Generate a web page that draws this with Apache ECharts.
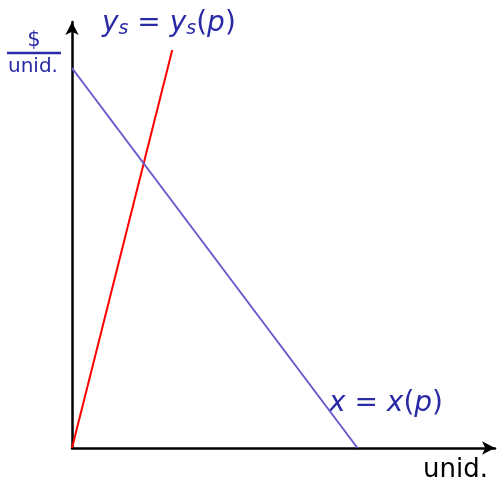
<!DOCTYPE html>
<html>
<head>
<meta charset="utf-8">
<script src="https://cdn.jsdelivr.net/npm/echarts@6/dist/echarts.min.js"></script>
<style>
  html, body { margin: 0; padding: 0; background: #fff; }
  #chart { width: 497px; height: 481px; }
</style>
</head>
<body>
<div id="chart"></div>
<script>
// supply (red) and demand (blue) lines, in axis units 0..100
const supplyX = [0, 23.7];
const supplyY = [0, 93.4];
const demandX = [0, 67.5];
const demandY = [89.2, 0];
const xLabel = "unid.";
const yLabelTop = "$";
const yLabelBottom = "unid.";

const chart = echarts.init(document.getElementById("chart"));

const textBlue = "#2a2aa6";
const ff = "'DejaVu Sans'";

const options = {
  animation: false,
  grid: { left: 72, right: 2, top: 22, bottom: 33 },
  xAxis: {
    type: "value",
    min: 0,
    max: 100,
    axisLine: {
      show: true,
      symbol: ["none", "arrow"],
      symbolSize: [10, 13],
      lineStyle: { color: "#000", width: 2.5 },
    },
    axisTick: { show: false },
    axisLabel: { show: false },
    splitLine: { show: false },
  },
  yAxis: {
    type: "value",
    min: 0,
    max: 100,
    axisLine: {
      show: true,
      symbol: ["none", "arrow"],
      symbolSize: [10, 13],
      lineStyle: { color: "#000", width: 2.5 },
    },
    axisTick: { show: false },
    axisLabel: { show: false },
    splitLine: { show: false },
  },
  series: [
    {
      type: "line",
      data: supplyX.map((x, i) => [x, supplyY[i]]),
      symbol: "none",
      lineStyle: { color: "#ff0000", width: 2 },
      z: 3,
    },
    {
      type: "line",
      data: demandX.map((x, i) => [x, demandY[i]]),
      symbol: "none",
      lineStyle: { color: "#6a5acd", width: 2 },
      z: 3,
    },
  ],
  graphic: [
    {
      type: "text",
      x: 102,
      y: 24,
      style: {
        text: "{i|y}{s|s}{n| = }{i|y}{s|s}{n|(}{i|p}{n|)}",
        fill: textBlue,
        verticalAlign: "middle",
        rich: {
          i: { font: "italic 28px " + ff, fill: textBlue },
          s: { font: "italic 19px " + ff, fill: textBlue, padding: [10, 0, 0, 0] },
          n: { font: "28px " + ff, fill: textBlue },
        },
      },
    },
    {
      type: "text",
      x: 329,
      y: 404,
      style: {
        text: "{i|x}{n| = }{i|x}{n|(}{i|p}{n|)}",
        fill: textBlue,
        verticalAlign: "middle",
        rich: {
          i: { font: "italic 28px " + ff, fill: textBlue },
          n: { font: "28px " + ff, fill: textBlue },
        },
      },
    },
    {
      type: "text",
      x: 423,
      y: 470,
      style: { text: xLabel, font: "26px " + ff, fill: "#000", verticalAlign: "middle" },
    },
    {
      type: "text",
      x: 34,
      y: 41,
      style: {
        text: yLabelTop,
        font: "21px " + ff,
        fill: textBlue,
        align: "center",
        verticalAlign: "middle",
      },
    },
    {
      type: "line",
      shape: { x1: 7, y1: 53, x2: 61, y2: 53 },
      style: { stroke: textBlue, lineWidth: 2.5 },
    },
    {
      type: "text",
      x: 33,
      y: 67,
      style: {
        text: yLabelBottom,
        font: "20px " + ff,
        fill: textBlue,
        align: "center",
        verticalAlign: "middle",
      },
    },
  ],
};

chart.setOption(options);
</script>
</body>
</html>
